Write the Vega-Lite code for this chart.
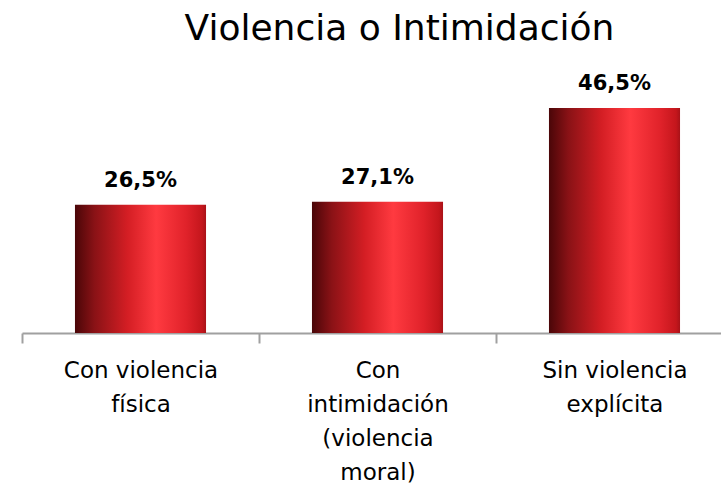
{
  "$schema": "https://vega.github.io/schema/vega-lite/v6.json",
  "autosize": {"type": "none"},
  "width": 711,
  "height": 242,
  "padding": {"left": 22, "top": 91, "right": 0, "bottom": 157},
  "background": "white",
  "title": {
    "text": "Violencia o Intimidación",
    "font": "DejaVu Sans",
    "fontSize": 36,
    "fontWeight": "normal",
    "color": "#000000",
    "anchor": "middle",
    "dx": 22,
    "offset": 25
  },
  "data": {
    "values": [
      {"categoria": "Con violencia|física", "valor": 26.5, "etiqueta": "26,5%"},
      {"categoria": "Con|intimidación|(violencia|moral)", "valor": 27.1, "etiqueta": "27,1%"},
      {"categoria": "Sin violencia|explícita", "valor": 46.5, "etiqueta": "46,5%"}
    ]
  },
  "config": {"view": {"stroke": null}},
  "encoding": {
    "x": {
      "field": "categoria",
      "type": "nominal",
      "sort": null,
      "scale": {"paddingInner": 0, "paddingOuter": 0},
      "axis": {
        "title": null,
        "labelAngle": 0,
        "labelExpr": "split(datum.label, '|')",
        "labelFont": "DejaVu Sans",
        "labelFontSize": 23,
        "labelColor": "#000000",
        "labelLineHeight": 34,
        "labelPadding": 16,
        "labelLimit": 300,
        "domainColor": "#a0a0a0",
        "domainWidth": 2,
        "tickColor": "#a0a0a0",
        "tickWidth": 2,
        "tickSize": 10,
        "tickBand": "extent",
        "grid": false
      }
    },
    "y": {
      "field": "valor",
      "type": "quantitative",
      "scale": {"domain": [0, 50]},
      "axis": null
    }
  },
  "layer": [
    {
      "mark": {
        "type": "bar",
        "width": {"band": 0.553},
        "color": {
          "gradient": "linear",
          "x1": 0, "y1": 0, "x2": 1, "y2": 0,
          "stops": [
            {"offset": 0, "color": "#4a0608"},
            {"offset": 0.15, "color": "#8a1216"},
            {"offset": 0.4, "color": "#d41e24"},
            {"offset": 0.62, "color": "#ff3a40"},
            {"offset": 0.85, "color": "#e0222a"},
            {"offset": 0.97, "color": "#c4161c"},
            {"offset": 1, "color": "#a81218"}
          ]
        }
      }
    },
    {
      "mark": {
        "type": "text",
        "baseline": "alphabetic",
        "dy": -18,
        "font": "DejaVu Sans",
        "fontSize": 21,
        "fontWeight": "bold",
        "color": "#000000"
      },
      "encoding": {"text": {"field": "etiqueta"}}
    }
  ]
}
